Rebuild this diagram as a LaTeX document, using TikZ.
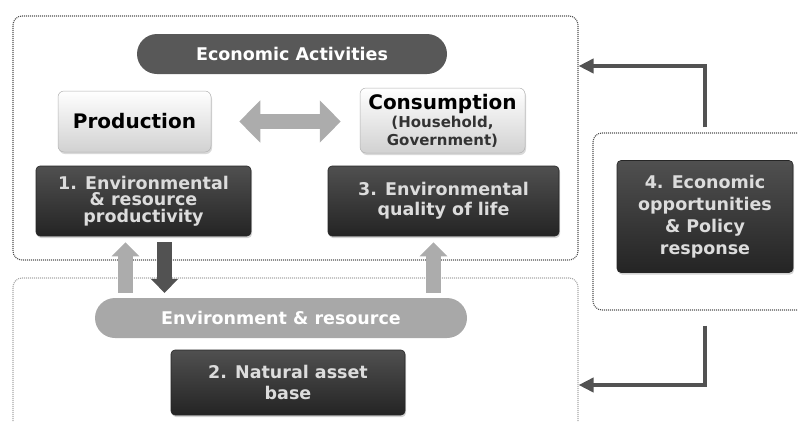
\documentclass[tikz,border=0pt]{standalone}
\usepackage{fontspec}
\setmainfont{DejaVu Sans}
\usepackage{tikz}
\usetikzlibrary{positioning,arrows.meta,shadows}
\definecolor{boxtop}{RGB}{80, 80, 80}
\definecolor{boxbottom}{RGB}{36, 36, 36}
\definecolor{boxtext}{RGB}{220, 220, 220}
\definecolor{pilldark}{RGB}{88, 88, 88}
\definecolor{pilllight}{RGB}{168, 168, 168}
\definecolor{flowlight}{RGB}{172, 172, 172}
\definecolor{flowdark}{RGB}{82, 82, 82}
\definecolor{framegray}{RGB}{80, 80, 80}

\begin{document}
\begin{tikzpicture}[
    x=1pt, y=-1pt,
    font=\bfseries,
    frame/.style={draw=framegray, dash pattern=on 1pt off 1pt, line width=1.1pt,
                  rounded corners=9pt, inner sep=0pt},
    darkbox/.style={rectangle, rounded corners=4pt, top color=boxtop, bottom color=boxbottom,
                    draw=black!85, line width=0.6pt, text=boxtext, align=center, inner sep=0pt,
                    font=\bfseries\fontsize{17.5}{21}\selectfont,
                    drop shadow={opacity=0.35, shadow xshift=1pt, shadow yshift=-2pt}},
    lightbox/.style={rectangle, rounded corners=6pt, top color=white, bottom color=black!18,
                     draw=black!30, line width=0.5pt, align=center, inner sep=0pt,
                     drop shadow={opacity=0.3, shadow xshift=1pt, shadow yshift=-2pt}},
    pill/.style={rectangle, rounded corners=20pt, minimum height=40pt, inner sep=0pt,
                 text=white, font=\bfseries\fontsize{17.5}{21}\selectfont},
    flow/.style={line width=15pt, -{Triangle[width=27pt, length=14pt]},
                 shorten <=5pt, shorten >=6pt},
    feedback/.style={draw=flowdark, line width=4.5pt, -{Triangle[width=14pt, length=15pt]}},
  ]
    \useasboundingbox (0,0) rectangle (798,421);
    \clip (0,0) rectangle (798,421);

    % Dotted frames
    \node[frame, minimum width=565pt, minimum height=244pt] (econframe) at (295.5,138) {};
    \node[frame, draw=framegray!50, minimum width=565pt, minimum height=182pt] (envframe) at (295.5,369) {};
    \node[frame, minimum width=237pt, minimum height=177pt] (policyframe) at (711.5,221.5) {};

    % Economic activities (top)
    \node[pill, fill=pilldark, minimum width=310pt] (econ) at (292,54) {Economic Activities};
    \node[lightbox, minimum width=153pt, minimum height=61pt,
          font=\bfseries\fontsize{20}{24}\selectfont] (prod) at (134.5,121.5) {Production};
    \node[lightbox, minimum width=165pt, minimum height=65pt, text=black!80,
          font=\bfseries\fontsize{15}{17.5}\selectfont] (cons) at (442.5,120.5)
      {\textcolor{black}{\fontsize{20}{21}\selectfont Consumption}\\[1pt]
       (Household,\\Government)};
    \node[darkbox, minimum width=215pt, minimum height=70pt,
          font=\bfseries\fontsize{17.5}{16.5}\selectfont] (prodind) at (143.5,201)
      {1. Environmental\\\& resource\\productivity};
    \node[darkbox, minimum width=231pt, minimum height=70pt,
          font=\bfseries\fontsize{17.5}{20}\selectfont] (consind) at (443.5,201)
      {3. Environmental\\quality of life};

    \draw[flowlight, line width=15pt, {Triangle[width=41pt, length=21pt]}-{Triangle[width=41pt, length=21pt]},
          shorten <=28pt, shorten >=19pt] (prod.east) -- (cons.west |- prod.east);

    % Environment and natural assets (bottom)
    \node[pill, fill=pilllight, minimum width=372pt] (env) at (281,318) {Environment \& resource};
    \node[darkbox, minimum width=234pt, minimum height=65pt] (asset) at (288,382.5)
      {2. Natural asset\\base};

    \coordinate (upprod) at ([xshift=-18pt]prodind.south);
    \coordinate (downprod) at ([xshift=21pt]prodind.south);
    \coordinate (upcons) at ([xshift=-10pt]consind.south);
    \draw[flow, flowlight] (env.north -| upprod) -- (upprod);
    \draw[flow, flowdark, shorten <=6pt, shorten >=5pt] (downprod) -- (env.north -| downprod);
    \draw[flow, flowlight] (env.north -| upcons) -- (upcons);

    % Policy response and feedback
    \node[darkbox, minimum width=176pt, minimum height=112pt,
          font=\bfseries\fontsize{17.5}{22}\selectfont] (policy) at (705,216.5)
      {4. Economic\\opportunities\\\& Policy\\response};

    \draw[feedback] ([yshift=5pt]policyframe.north -| policy.center)
      |- ([yshift=72pt]econframe.east);
    \draw[feedback] ([yshift=-15pt]policyframe.south -| policy.center)
      |- ([yshift=-16pt]envframe.east);
  \end{tikzpicture}
\end{document}
